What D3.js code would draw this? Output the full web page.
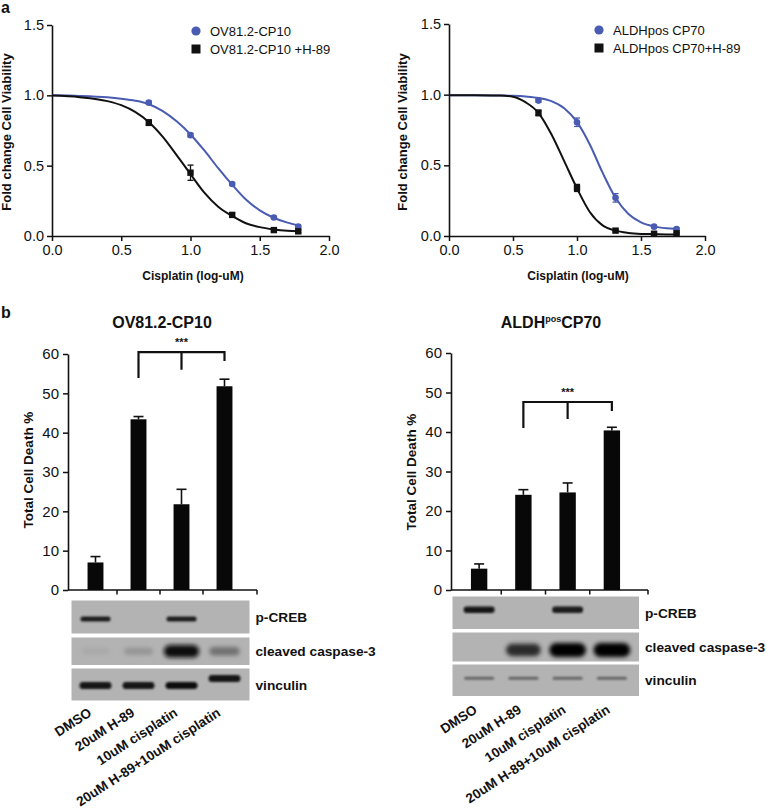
<!DOCTYPE html>
<html><head><meta charset="utf-8">
<script src="https://cdn.jsdelivr.net/npm/d3@7"></script>
<style>
body{margin:0;background:#fff}
svg{display:block}
text{font-family:"Liberation Sans",Arial,Helvetica,sans-serif;fill:#111}
</style>
</head><body>
<svg id="c" width="766" height="810"></svg>
<script>
// ---------------- DATA ----------------
// Panel a: dose response (x = log10 cisplatin uM)
const doses = [0.699, 1.0, 1.301, 1.602, 1.778];
const xTicks = [0, 0.5, 1.0, 1.5, 2.0];
const yTicks = [0, 0.5, 1.0, 1.5];

const leftSeries = ["OV81.2-CP10", "OV81.2-CP10 +H-89"];
const leftCtrl = [0.948, 0.717, 0.370, 0.132, 0.068];
const leftCtrlErr = [0.010, 0.012, 0.010, 0.008, 0.008];
const leftH89 = [0.806, 0.450, 0.150, 0.042, 0.033];
const leftH89Err = [0.020, 0.054, 0.012, 0.008, 0.008];

const rightSeries = ["ALDHpos CP70", "ALDHpos CP70+H-89"];
const rightCtrl = [0.958, 0.805, 0.270, 0.066, 0.049];
const rightCtrlErr = [0.012, 0.030, 0.030, 0.008, 0.008];
const rightH89 = [0.871, 0.340, 0.038, 0.016, 0.019];
const rightH89Err = [0.020, 0.025, 0.008, 0.006, 0.006];

// fitted curves
const curveX = [0, 0.2, 0.4, 0.5, 0.6, 0.7, 0.8, 0.9, 1.0, 1.1, 1.2, 1.3, 1.4, 1.5, 1.6, 1.7, 1.78];
const leftCtrlFit  = [1.000, 0.996, 0.986, 0.976, 0.962, 0.937, 0.888, 0.815, 0.722, 0.608, 0.482, 0.365, 0.259, 0.182, 0.130, 0.095, 0.075];
const leftH89Fit   = [0.998, 0.987, 0.959, 0.930, 0.882, 0.809, 0.705, 0.575, 0.440, 0.308, 0.208, 0.143, 0.091, 0.063, 0.047, 0.037, 0.033];
const rightCtrlFit = [0.995, 0.995, 0.994, 0.992, 0.987, 0.977, 0.954, 0.904, 0.807, 0.647, 0.448, 0.272, 0.157, 0.096, 0.068, 0.055, 0.050];
const rightH89Fit  = [0.995, 0.995, 0.994, 0.985, 0.945, 0.870, 0.720, 0.530, 0.337, 0.170, 0.075, 0.038, 0.022, 0.015, 0.013, 0.011, 0.011];

// Panel b: total cell death %
const barCats = ["DMSO", "20uM H-89", "10uM cisplatin", "20uM H-89+10uM cisplatin"];
const barTicks = [0, 10, 20, 30, 40, 50, 60];
const leftBars = [7.0, 43.4, 21.8, 51.8];
const leftBarErr = [1.5, 0.7, 3.8, 1.8];
const rightBars = [5.4, 24.1, 24.7, 40.4];
const rightBarErr = [1.2, 1.3, 2.4, 0.8];
// significance bracket: [bar level, left leg end, middle leg end, right leg end]
const leftBracket = [60.5, 53.9, 56.0, 58.2];
const rightBracket = [47.6, 41.0, 43.3, 45.3];

// Western blots: band intensity per lane (0 = none, 1 = saturated)
const blotProteins = ["p-CREB", "cleaved caspase-3", "vinculin"];
const leftBlot = [
  [0.85, 0.00, 0.85, 0.00],
  [0.06, 0.18, 0.95, 0.38],
  [0.92, 0.90, 0.95, 0.90]
];
const rightBlot = [
  [0.92, 0.00, 0.88, 0.00],
  [0.00, 0.78, 1.00, 1.00],
  [0.45, 0.45, 0.45, 0.45]
];

// ---------------- DRAWING ----------------
const svg = d3.select("#c");
const BLUE = "#4a5bb2";
const defs = svg.append("defs");
defs.append("filter").attr("id", "blur").attr("x", "-30%").attr("y", "-100%").attr("width", "160%").attr("height", "300%")
  .append("feGaussianBlur").attr("stdDeviation", 1.3);
defs.append("filter").attr("id", "blur2").attr("x", "-30%").attr("y", "-100%").attr("width", "160%").attr("height", "300%")
  .append("feGaussianBlur").attr("stdDeviation", 2.2);

function styleAxis(sel, fs) {
  sel.select(".domain").attr("stroke", "#111").attr("stroke-width", 1.6);
  sel.selectAll(".tick line").attr("stroke", "#111").attr("stroke-width", 1.5);
  sel.selectAll(".tick text").attr("font-size", fs).attr("fill", "#222")
    .style("font-family", '"Liberation Sans",Arial,sans-serif');
}

function doseChart(cfg) {
  const x = d3.scaleLinear().domain([0, 2]).range([cfg.x0, cfg.x1]);
  const y = d3.scaleLinear().domain([0, 1.5]).range([cfg.y0, cfg.y1]);
  const g = svg.append("g");

  const ax = g.append("g").attr("transform", `translate(0,${cfg.y0})`)
    .call(d3.axisBottom(x).tickValues(xTicks).tickFormat(d3.format(".1f")).tickSize(5).tickSizeOuter(0).tickPadding(4));
  styleAxis(ax, 14.5);
  const ay = g.append("g").attr("transform", `translate(${cfg.x0},0)`)
    .call(d3.axisLeft(y).tickValues(yTicks).tickFormat(d3.format(".1f")).tickSize(5).tickSizeOuter(0).tickPadding(3));
  styleAxis(ay, 14.5);

  g.append("text").attr("transform", `translate(${cfg.ytx},${cfg.yty}) rotate(-90)`)
    .attr("text-anchor", "middle").attr("font-size", 13).attr("font-weight", "bold")
    .text("Fold change Cell Viability");
  g.append("text").attr("x", cfg.xtx).attr("y", 280).attr("text-anchor", "middle")
    .attr("font-size", 12).attr("font-weight", "bold").text("Cisplatin (log-uM)");

  const line = d3.line().x((d, i) => x(curveX[i])).y(d => y(d)).curve(d3.curveMonotoneX);
  g.append("path").datum(cfg.ctrlFit).attr("d", line).attr("fill", "none").attr("stroke", BLUE).attr("stroke-width", 2);
  g.append("path").datum(cfg.h89Fit).attr("d", line).attr("fill", "none").attr("stroke", "#111").attr("stroke-width", 2);

  function errs(vals, err, col) {
    doses.forEach((d, i) => {
      const cx = x(d), t = y(vals[i] + err[i]), b = y(vals[i] - err[i]);
      g.append("line").attr("x1", cx).attr("x2", cx).attr("y1", t).attr("y2", b).attr("stroke", col).attr("stroke-width", 1.3);
      [t, b].forEach(yy => g.append("line").attr("x1", cx - 3).attr("x2", cx + 3).attr("y1", yy).attr("y2", yy)
        .attr("stroke", col).attr("stroke-width", 1.3));
    });
  }
  errs(cfg.ctrl, cfg.ctrlErr, BLUE);
  errs(cfg.h89, cfg.h89Err, "#111");
  g.selectAll(null).data(cfg.ctrl).enter().append("circle")
    .attr("cx", (d, i) => x(doses[i])).attr("cy", d => y(d)).attr("r", 3.3).attr("fill", BLUE);
  g.selectAll(null).data(cfg.h89).enter().append("rect")
    .attr("x", (d, i) => x(doses[i]) - 3.2).attr("y", d => y(d) - 3.2).attr("width", 6.4).attr("height", 6.4).attr("fill", "#111");

  // legend
  g.append("circle").attr("cx", cfg.lx).attr("cy", cfg.ly).attr("r", 4.6).attr("fill", BLUE);
  g.append("rect").attr("x", cfg.lx - 4.5).attr("y", cfg.ly + 18 - 4.5).attr("width", 9).attr("height", 9).attr("fill", "#111");
  g.append("text").attr("x", cfg.lx + 14).attr("y", cfg.ly + 4.8).attr("font-size", 13).text(cfg.names[0]);
  g.append("text").attr("x", cfg.lx + 14).attr("y", cfg.ly + 22.8).attr("font-size", 13).text(cfg.names[1]);
}

doseChart({x0: 52, x1: 329, y0: 236, y1: 25, ytx: 11, yty: 132, xtx: 193, lx: 196, ly: 31,
  names: leftSeries, ctrl: leftCtrl, ctrlErr: leftCtrlErr, h89: leftH89, h89Err: leftH89Err,
  ctrlFit: leftCtrlFit, h89Fit: leftH89Fit});
doseChart({x0: 449, x1: 705, y0: 236, y1: 24, ytx: 407, yty: 132, xtx: 578, lx: 599, ly: 30,
  names: rightSeries, ctrl: rightCtrl, ctrlErr: rightCtrlErr, h89: rightH89, h89Err: rightH89Err,
  ctrlFit: rightCtrlFit, h89Fit: rightH89Fit});

svg.append("text").attr("x", 1).attr("y", 13).attr("font-size", 16).attr("font-weight", "bold").text("a");
svg.append("text").attr("x", 1).attr("y", 318).attr("font-size", 16).attr("font-weight", "bold").text("b");

function barChart(cfg) {
  const g = svg.append("g");
  const x = d3.scaleBand().domain(barCats).range([cfg.bx0, cfg.bx1]).paddingInner(0.63).paddingOuter(0.315);
  const y = d3.scaleLinear().domain([0, 60]).range([590, cfg.yTop]);
  const ay = g.append("g").attr("transform", `translate(${cfg.ax},0)`)
    .call(d3.axisLeft(y).tickValues(barTicks).tickSize(5).tickSizeOuter(0).tickPadding(4));
  styleAxis(ay, 15);
  // x axis
  g.append("line").attr("x1", cfg.ax).attr("x2", cfg.axEnd).attr("y1", 590).attr("y2", 590).attr("stroke", "#111").attr("stroke-width", 1.6);
  const step = x.step();
  const tx = barCats.slice(1).map(c => x(c) + x.bandwidth() / 2 - step / 2).concat([cfg.axEnd]);
  tx.forEach(t => g.append("line").attr("x1", t).attr("x2", t).attr("y1", 590).attr("y2", 594.5).attr("stroke", "#111").attr("stroke-width", 1.5));

  // bars
  cfg.vals.forEach((v, i) => {
    const c = barCats[i], cx = x(c) + x.bandwidth() / 2;
    g.append("rect").attr("x", x(c)).attr("y", y(v)).attr("width", x.bandwidth()).attr("height", y(0) - y(v)).attr("fill", "#080808");
    const et = y(v + cfg.err[i]);
    g.append("line").attr("x1", cx).attr("x2", cx).attr("y1", y(v)).attr("y2", et).attr("stroke", "#111").attr("stroke-width", 1.6);
    g.append("line").attr("x1", cx - 5).attr("x2", cx + 5).attr("y1", et).attr("y2", et).attr("stroke", "#111").attr("stroke-width", 1.6);
  });

  // bracket
  const br = cfg.bracket;
  const c1 = x(barCats[1]) + x.bandwidth() / 2, c3 = x(barCats[3]) + x.bandwidth() / 2;
  const mid = x(barCats[2]) + x.bandwidth() / 2;
  const bp = d3.path();
  bp.moveTo(c1, y(br[1])); bp.lineTo(c1, y(br[0])); bp.lineTo(c3, y(br[0])); bp.lineTo(c3, y(br[3]));
  bp.moveTo(mid, y(br[0])); bp.lineTo(mid, y(br[2]));
  g.append("path").attr("d", bp.toString()).attr("fill", "none").attr("stroke", "#111").attr("stroke-width", 2.2);
  g.append("text").attr("x", mid).attr("y", y(br[0]) - 6).attr("text-anchor", "middle").attr("font-size", 11).attr("font-weight", "bold").text("***");

  // titles
  const t = g.append("text").attr("x", cfg.titleX).attr("y", 328).attr("text-anchor", "middle").attr("font-size", 16).attr("font-weight", "bold");
  if (cfg.sup) {
    t.append("tspan").text(cfg.title[0]);
    t.append("tspan").attr("font-size", 9).attr("dy", -6).text(cfg.title[1]);
    t.append("tspan").attr("dy", 6).text(cfg.title[2]);
  } else t.text(cfg.title);
  g.append("text").attr("transform", `translate(${cfg.ytx},${cfg.yty}) rotate(-90)`).attr("text-anchor", "middle")
    .attr("font-size", 13.5).attr("font-weight", "bold").text("Total Cell Death %");

  // blots
  const panels = cfg.panels;
  panels.forEach((p, pi) => {
    g.append("rect").attr("x", cfg.px0).attr("y", p[0]).attr("width", cfg.px1 - cfg.px0).attr("height", p[1] - p[0]).attr("fill", "#b3b3b3");
    g.append("text").attr("x", cfg.px1 + 6).attr("y", (p[0] + p[1]) / 2 + 5).attr("font-size", 13.7).attr("font-weight", "bold").text(blotProteins[pi]);
    cfg.blot[pi].forEach((v, li) => {
      if (v <= 0.02) return;
      const cx = x(barCats[li]) + x.bandwidth() / 2;
      const col = d3.interpolateRgb("#b3b3b3", "#050505")(Math.min(1, v));
      const h = cfg.bandH[pi] * (pi === 1 ? (0.45 + 0.55 * v) : 1);
      const w = cfg.bandW[pi] * (pi === 1 ? (0.8 + 0.25 * v) : 1);
      const cy = (p[0] + p[1]) / 2 + cfg.bandDy[pi] + (cfg.tilt && pi === 2 && li === 3 ? -7 : 0);
      g.append("rect").attr("x", cx - w / 2).attr("y", cy - h / 2).attr("width", w).attr("height", h)
        .attr("rx", Math.min(h / 2, w / 2)).attr("fill", col).attr("filter", pi === 1 ? "url(#blur2)" : "url(#blur)");
    });
  });

  // x labels
  barCats.forEach((c, i) => {
    const cx = x(c) + x.bandwidth() / 2 + cfg.labDx;
    g.append("text").attr("transform", `translate(${cx},${cfg.labY}) rotate(-33)`).attr("text-anchor", "end")
      .attr("font-size", 13.5).attr("font-weight", "bold").text(c);
  });
}

barChart({bx0: 74, bx1: 246, ax: 68, axEnd: 257, yTop: 354, vals: leftBars, err: leftBarErr, bracket: leftBracket,
  title: "OV81.2-CP10", titleX: 162, ytx: 33, yty: 470,
  px0: 71.5, px1: 249.5, panels: [[600.5, 633.5], [637.5, 665], [668.5, 700.5]],
  blot: leftBlot, bandH: [5, 13, 7], bandW: [30, 34, 32], bandDy: [2, 0, 1], tilt: true, labDx: -3, labY: 715});
barChart({bx0: 457, bx1: 634, ax: 451, axEnd: 648, yTop: 353, vals: rightBars, err: rightBarErr, bracket: rightBracket,
  title: ["ALDH", "pos", "CP70"], sup: true, titleX: 551, ytx: 416, yty: 472,
  px0: 452.5, px1: 639, panels: [[596.5, 629], [632.5, 661.5], [664.5, 696]],
  blot: rightBlot, bandH: [6.5, 14, 3], bandW: [31, 35, 30], bandDy: [-3, 3, -2], tilt: false, labDx: -1, labY: 712});
</script>
</body></html>
